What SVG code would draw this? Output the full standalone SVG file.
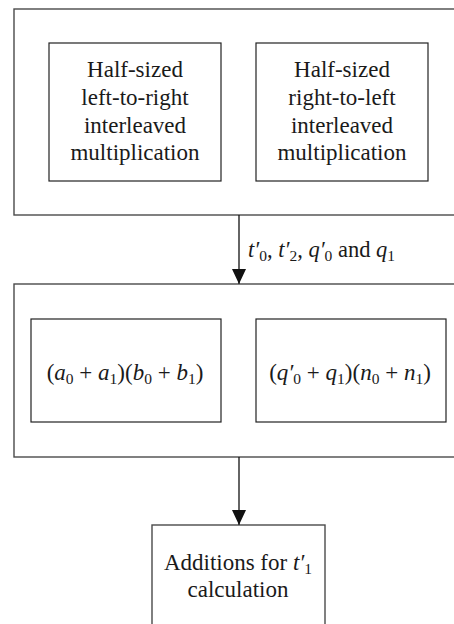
<svg xmlns="http://www.w3.org/2000/svg" width="454" height="624" viewBox="0 0 454 624">
<style>
text{font-family:"Liberation Serif","Times New Roman",serif;font-size:23px;fill:#1a1a1a}
.outer{fill:none;stroke:#4a4a4a;stroke-width:1.4}
.inner{fill:none;stroke:#222;stroke-width:1.2}
.conn{stroke:#111;stroke-width:1.3;fill:none}
.i{font-style:italic}
.s{font-size:15.5px}
.lbl{font-size:22.5px}
</style>
<defs>
<marker id="ah" markerUnits="userSpaceOnUse" markerWidth="14" markerHeight="16" refX="15" refY="7" orient="auto">
<path d="M0,0 L15,7 L0,14 z" fill="#111"/>
</marker>
</defs>
<rect width="454" height="624" fill="#fff"/>
<g id="stage1">
<rect class="outer" x="14" y="9" width="460" height="206"/>
<g id="ltr">
<rect class="inner" x="49" y="43" width="172" height="138"/>
<text text-anchor="middle"><tspan x="135" y="77">Half-sized</tspan><tspan x="135" y="105">left-to-right</tspan><tspan x="135" y="133">interleaved</tspan><tspan x="135" y="160">multiplication</tspan></text>
</g>
<g id="rtl">
<rect class="inner" x="256" y="43" width="172" height="138"/>
<text text-anchor="middle"><tspan x="342" y="77">Half-sized</tspan><tspan x="342" y="105">right-to-left</tspan><tspan x="342" y="133">interleaved</tspan><tspan x="342" y="160">multiplication</tspan></text>
</g>
</g>
<g id="stage2">
<rect class="outer" x="14" y="284" width="460" height="173"/>
<g id="prod1">
<rect class="inner" x="31" y="319" width="190" height="103"/>
<text x="125" y="380" text-anchor="middle">(<tspan class="i">a</tspan><tspan class="s" dy="4">0</tspan><tspan dy="-4"> + </tspan><tspan class="i">a</tspan><tspan class="s" dy="4">1</tspan><tspan dy="-4">)(</tspan><tspan class="i">b</tspan><tspan class="s" dy="4">0</tspan><tspan dy="-4"> + </tspan><tspan class="i">b</tspan><tspan class="s" dy="4">1</tspan><tspan dy="-4">)</tspan></text>
</g>
<g id="prod2">
<rect class="inner" x="256" y="319" width="190" height="103"/>
<text x="350" y="380" text-anchor="middle">(<tspan class="i">q′</tspan><tspan class="s" dy="4">0</tspan><tspan dy="-4"> + </tspan><tspan class="i">q</tspan><tspan class="s" dy="4">1</tspan><tspan dy="-4">)(</tspan><tspan class="i">n</tspan><tspan class="s" dy="4">0</tspan><tspan dy="-4"> + </tspan><tspan class="i">n</tspan><tspan class="s" dy="4">1</tspan><tspan dy="-4">)</tspan></text>
</g>
</g>
<g id="stage3">
<rect class="outer" x="152" y="525" width="173" height="110"/>
<text text-anchor="middle"><tspan x="238" y="570">Additions for <tspan class="i">t′</tspan><tspan class="s" dy="4">1</tspan></tspan><tspan x="238" y="597">calculation</tspan></text>
</g>
<g id="connectors">
<line class="conn" x1="239" y1="215" x2="239" y2="284" marker-end="url(#ah)"/>
<line class="conn" x1="239" y1="457" x2="239" y2="525" marker-end="url(#ah)"/>
<text class="lbl" x="248" y="257"><tspan class="i">t′</tspan><tspan class="s" dy="4">0</tspan><tspan dy="-4">, </tspan><tspan class="i">t′</tspan><tspan class="s" dy="4">2</tspan><tspan dy="-4">, </tspan><tspan class="i">q′</tspan><tspan class="s" dy="4">0</tspan><tspan dy="-4"> and </tspan><tspan class="i">q</tspan><tspan class="s" dy="4">1</tspan></text>
</g>
</svg>
